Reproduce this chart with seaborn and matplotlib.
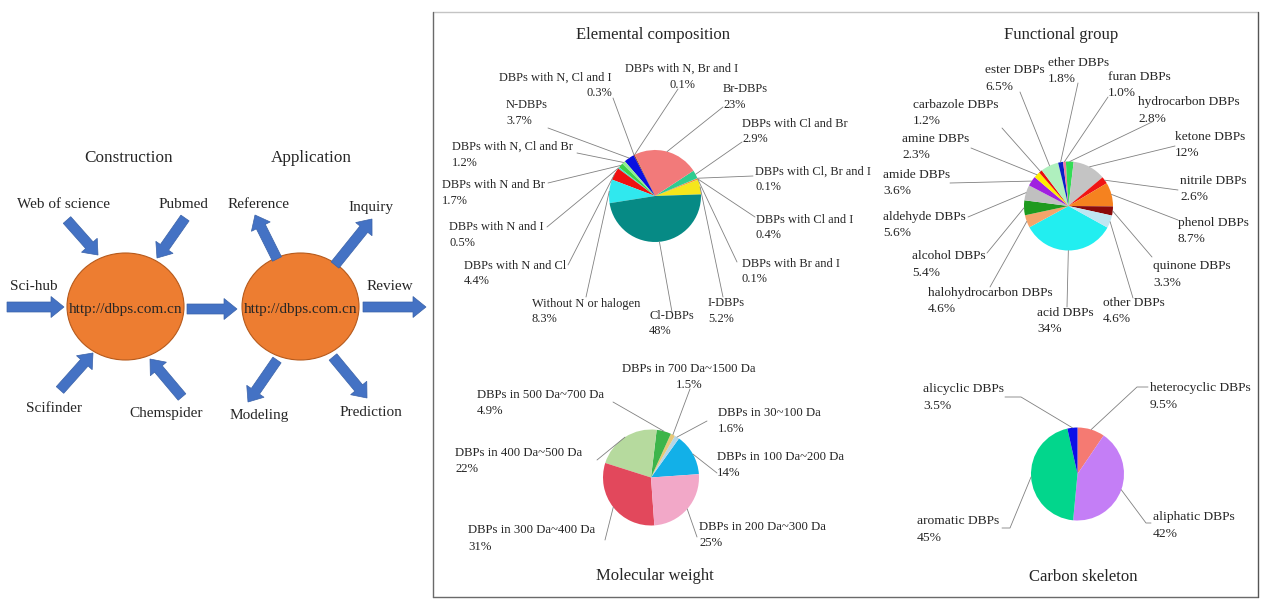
import numpy as np
import matplotlib
matplotlib.use("Agg")
import matplotlib.pyplot as plt
import seaborn as sns
from matplotlib.patches import Ellipse, FancyArrow
from matplotlib.lines import Line2D

# ------------------------------------------------------------------ data
elem_names = ["I-DBPs", "DBPs with Br and I", "DBPs with Cl and I",
              "DBPs with Cl, Br and I", "DBPs with Cl and Br", "Br-DBPs",
              "DBPs with N, Br and I", "DBPs with N, Cl and I", "N-DBPs",
              "DBPs with N, Cl and Br", "DBPs with N and Br", "DBPs with N and I",
              "DBPs with N and Cl", "Without N or halogen", "Cl-DBPs"]
elem_values = [5.2, 0.1, 0.4, 0.1, 2.9, 23, 0.1, 0.3, 3.7, 1.2, 1.7, 0.5, 4.4, 8.3, 48]
elem_colors = ["#F5E61B", "#B0B0B0", "#FF8C00", "#DA70D6", "#2ECC8F", "#F27A7A",
               "#9ACD32", "#8B0000", "#0A10E0", "#90EE90", "#3CD24A", "#40E0D0",
               "#F01010", "#30E8EE", "#068A85"]

func_names = ["acid DBPs", "halohydrocarbon DBPs", "alcohol DBPs", "aldehyde DBPs",
              "amide DBPs", "amine DBPs", "carbazole DBPs", "ester DBPs", "ether DBPs",
              "furan DBPs", "hydrocarbon DBPs", "ketone DBPs", "nitrile DBPs",
              "phenol DBPs", "quinone DBPs", "other DBPs"]
func_values = [34, 4.6, 5.4, 5.6, 3.6, 2.3, 1.2, 6.5, 1.8, 1.0, 2.8, 12, 2.6, 8.7, 3.3, 4.6]
func_colors = ["#22EEF0", "#F4A46A", "#1E9A1E", "#C0C0C0", "#A020E0", "#FFEE00",
               "#E81010", "#AFF0BE", "#0A20C8", "#F07CA0", "#33DD55", "#C4C4C4",
               "#F01414", "#F5821F", "#8B0A0A", "#BFE6F2"]

mw_names = ["DBPs in 100 Da~200 Da", "DBPs in 30~100 Da", "DBPs in 700 Da~1500 Da",
            "DBPs in 500 Da~700 Da", "DBPs in 400 Da~500 Da", "DBPs in 300 Da~400 Da",
            "DBPs in 200 Da~300 Da"]
mw_values = [14, 1.6, 1.5, 4.9, 22, 31, 25]
mw_colors = ["#12B0E8", "#B4D6E8", "#E8C878", "#3DB54A", "#B6DA9E", "#E2485C", "#F2A8C8"]

cs_names = ["heterocyclic DBPs", "aliphatic DBPs", "aromatic DBPs", "alicyclic DBPs"]
cs_values = [9.5, 42, 45, 3.5]
cs_colors = ["#F57A72", "#C47EF6", "#02D68C", "#0A10E8"]

left_titles = ["Construction", "Application"]
sources = ["Web of science", "Pubmed", "Sci-hub", "Scifinder", "Chemspider"]
applications = ["Reference", "Inquiry", "Review", "Modeling", "Prediction"]
site_text = "http://dbps.com.cn"

# ------------------------------------------------------------------ layout
W, H = 1269, 610
sns.set_theme(style="white")
plt.rcParams['font.family'] = ['Liberation Serif', 'DejaVu Serif']

fig = plt.figure(figsize=(W / 100, H / 100), dpi=100)
ax = fig.add_axes([0, 0, 1, 1])


def Y(y):
    return H - y


def pct(v):
    return f"{v:.0f}%" if v >= 10 else f"{v:.1f}%"


LEAD = "#808080"

# label layout: (x, y_first_line, ha, anchor_x, anchor_y[, elbow_x, elbow_y])
elem_layout = [(708, 303, "left", 723, 297), (742, 264, "left", 737, 262),
               (756, 220, "left", 755, 217), (755, 172, "left", 753, 176),
               (742, 124, "left", 742, 142), (723, 89, "left", 723, 107),
               (682, 69, "center", 678, 89), (612, 78, "right", 613, 98),
               (506, 105, "left", 548, 128), (452, 147, "left", 577, 153),
               (442, 185, "left", 548, 183), (449, 227, "left", 547, 227),
               (464, 266, "left", 568, 265), (532, 304, "left", 586, 297),
               (649, 316, "left", 672, 312)]
func_layout = [(1037, 313, "left", 1067, 307), (928, 293, "left", 990, 287),
               (912, 256, "left", 987, 253), (883, 217, "left", 968, 217),
               (883, 175, "left", 950, 183), (902, 139, "left", 971, 148),
               (913, 105, "left", 1002, 128), (985, 70, "left", 1020, 92),
               (1048, 63, "left", 1078, 83), (1108, 77, "left", 1108, 97),
               (1138, 102, "left", 1152, 122), (1175, 137, "left", 1175, 146),
               (1180, 181, "left", 1178, 190), (1178, 223, "left", 1178, 220),
               (1153, 266, "left", 1152, 257), (1103, 303, "left", 1133, 298)]
mw_layout = [(717, 457, "left", 717, 473), (718, 413, "left", 707, 421),
             (689, 369, "center", 690, 389), (477, 395, "left", 613, 402),
             (455, 453, "left", 597, 460), (468, 530, "left", 605, 540),
             (699, 527, "left", 697, 537)]
cs_layout = [(1150, 388, "left", 1148, 387, 1137, 387),
             (1153, 517, "left", 1151, 523, 1146, 523),
             (917, 521, "left", 1002, 528, 1010, 528),
             (923, 389, "left", 1005, 397, 1021, 397)]


def draw_pie(values, colors, names, center, radius, startangle, counterclock,
             layout, fs, dy, title, title_pos):
    cx, cy = center
    wedges, _ = ax.pie(values, colors=colors, startangle=startangle,
                       counterclock=counterclock, center=(cx, Y(cy)),
                       radius=radius, wedgeprops=dict(linewidth=0))
    for w, name, v, lay in zip(wedges, names, values, layout):
        mid = np.deg2rad((w.theta1 + w.theta2) / 2)
        px = cx + radius * np.cos(mid)
        py = Y(cy) + radius * np.sin(mid)
        x, y1, ha = lay[:3]
        pts = [(lay[3], Y(lay[4]))]
        if len(lay) > 5:
            pts.append((lay[5], Y(lay[6])))
        pts.append((px, py))
        xs, ys = zip(*pts)
        ax.add_line(Line2D(xs, ys, color=LEAD, lw=0.6, zorder=1))
        ax.text(x, Y(y1), name, ha=ha, va="center", fontsize=fs)
        ax.text(x, Y(y1 + dy), pct(v), ha=ha, va="center", fontsize=fs)
    ax.text(title_pos[0], Y(title_pos[1]), title, ha="center", va="center",
            fontsize=12)


draw_pie(elem_values, elem_colors, elem_names, (655, 196), 46, 2, True,
         elem_layout, 8.9, 15.5, "Elemental composition", (653, 35))
draw_pie(func_values, func_colors, func_names, (1068.5, 206), 44.5, -29, False,
         func_layout, 9.6, 16.5, "Functional group", (1061, 35))
draw_pie(mw_values, mw_colors, mw_names, (651, 477.5), 48, 4, True,
         mw_layout, 9.2, 16.5, "Molecular weight", (655, 576))
draw_pie(cs_values, cs_colors, cs_names, (1077.5, 474), 46.5, 90, False,
         cs_layout, 9.7, 17, "Carbon skeleton", (1083, 577))

# frame around the pie panel
ax.add_line(Line2D([433, 1258], [Y(12), Y(12)], color="#C4C4C4", lw=1))
ax.add_line(Line2D([433, 1258], [Y(597), Y(597)], color="#6A6A6A", lw=1))
ax.add_line(Line2D([433, 433], [Y(12), Y(597)], color="#6A6A6A", lw=1))
ax.add_line(Line2D([1258, 1258], [Y(12), Y(597)], color="#555555", lw=1))

# ------------------------------------------------------------------ left diagram
ORANGE = "#ED7D31"
BLUE = "#4472C4"
for cxe in (125.5, 300.5):
    ax.add_patch(Ellipse((cxe, Y(306.5)), 117, 107, fc=ORANGE, ec="#B65A1C",
                         lw=0.8, zorder=2))
    ax.text(cxe, Y(309), site_text, ha="center", va="center", fontsize=11,
            zorder=3)

ax.text(129, Y(158), left_titles[0], ha="center", va="center", fontsize=12.3)
ax.text(311, Y(158), left_titles[1], ha="center", va="center", fontsize=12.3)

src_pos = [(63.5, 205), (183, 205), (33.5, 287), (54, 409), (166, 413)]
app_pos = [(259, 205), (371, 208), (390, 287), (259.5, 415), (370.5, 413)]
for t, (x, y) in zip(sources, src_pos):
    ax.text(x, Y(y), t, ha="center", va="center", fontsize=11)
for t, (x, y) in zip(applications, app_pos):
    ax.text(x, Y(y), t, ha="center", va="center", fontsize=11)

arrows = [((67, 220), (98, 255)), ((185, 218), (157, 258)), ((7, 307), (64, 307)),
          ((60, 390), (93, 353)), ((182, 397), (150, 359)), ((187, 309), (237, 309)),
          ((277, 259), (255, 215)), ((335, 265), (372, 219)), ((363, 307), (426, 307)),
          ((277, 360), (248, 402)), ((333, 357), (367, 398))]
for (x0, y0), (x1, y1) in arrows:
    ax.add_patch(FancyArrow(x0, Y(y0), x1 - x0, -(y1 - y0), width=10,
                            head_width=21, head_length=13,
                            length_includes_head=True, fc=BLUE, ec="#3A62A8",
                            lw=0.5, zorder=4))

ax.set_xlim(0, W)
ax.set_ylim(0, H)
ax.set_aspect("auto")
ax.axis("off")
fig.savefig("out.png", dpi=100, facecolor="white")
